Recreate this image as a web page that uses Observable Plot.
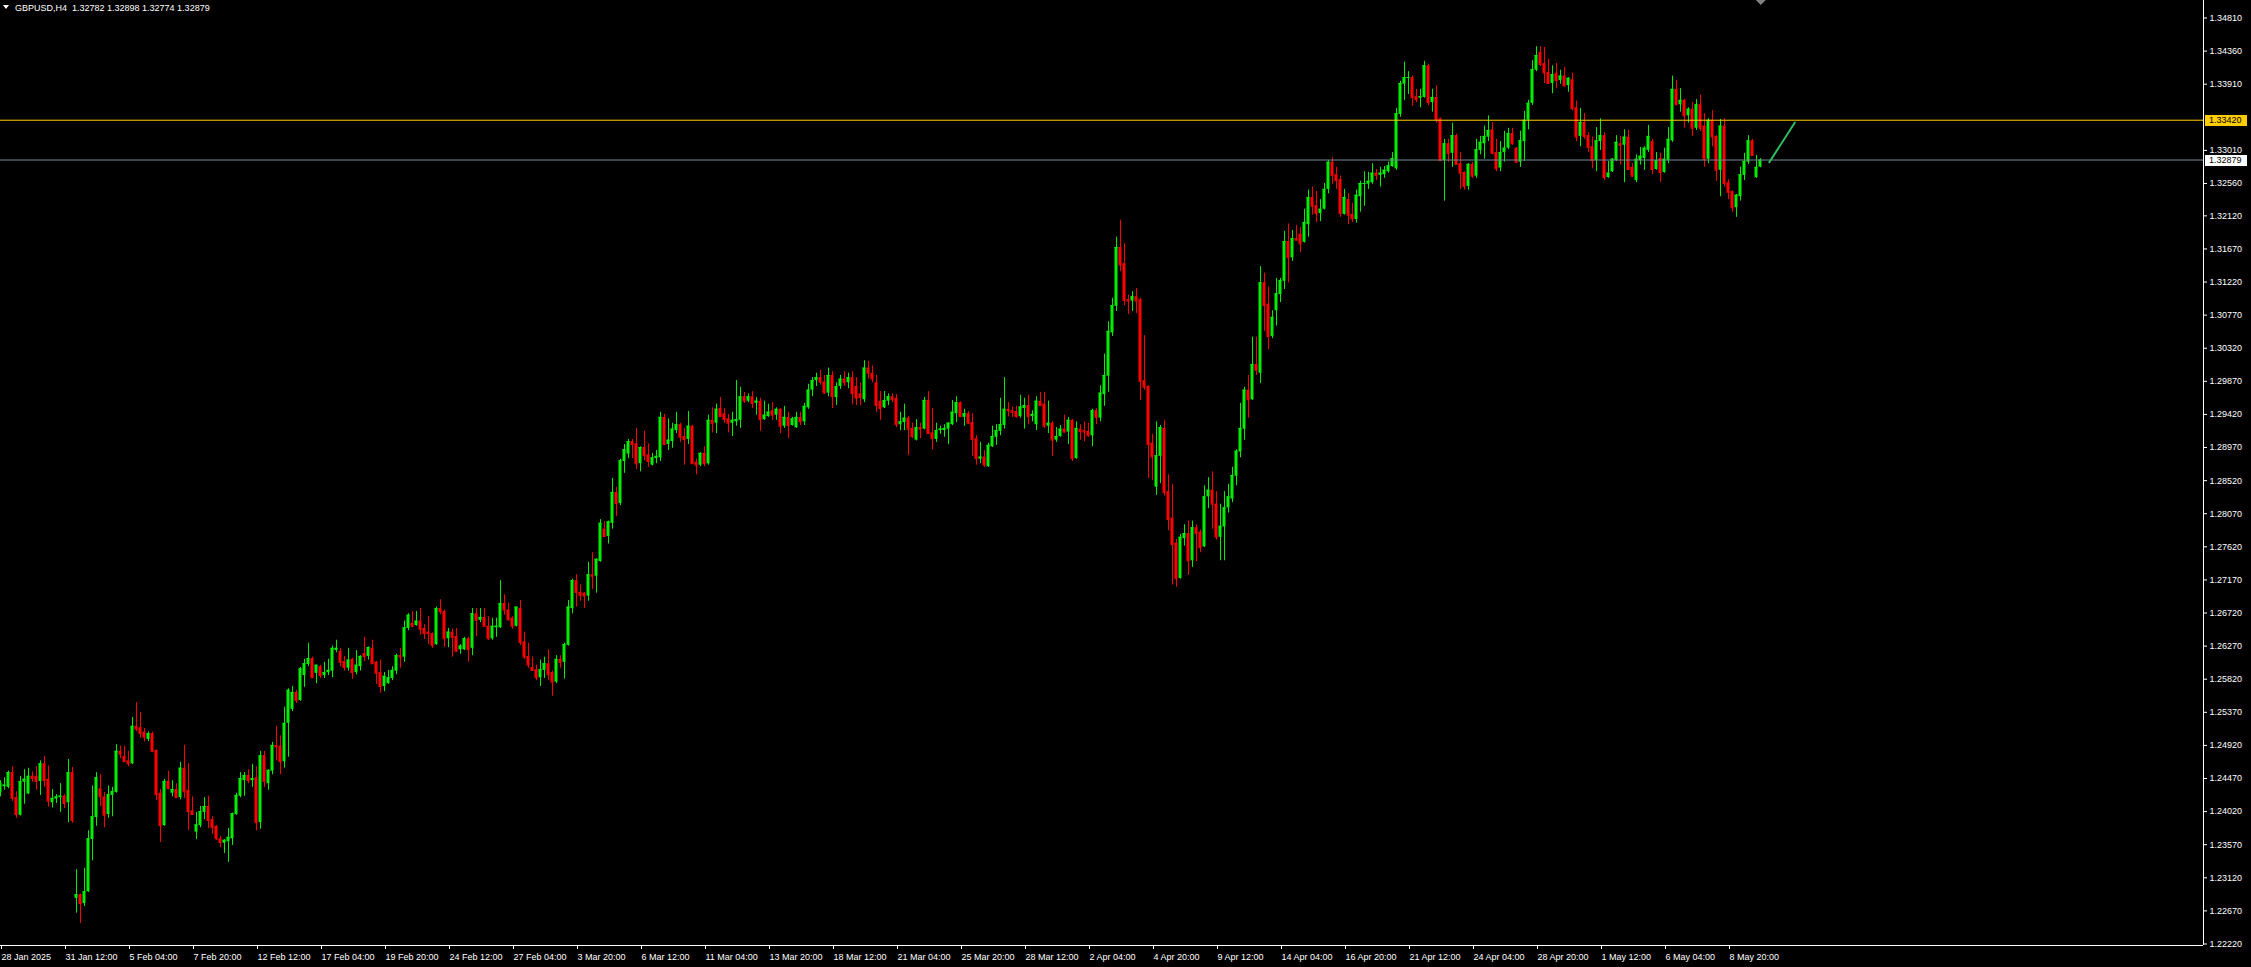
<!DOCTYPE html>
<html><head><meta charset="utf-8">
<script src="https://cdn.jsdelivr.net/npm/d3@7"></script>
<script src="https://cdn.jsdelivr.net/npm/@observablehq/plot@0.6"></script>
<style>
html,body{margin:0;padding:0;background:#000;overflow:hidden;}
#chart svg{display:block;}
</style></head><body><div id="chart"></div>
<script>
const symbolTitle = "GBPUSD,H4";
const lastQuote = ["1.32782", "1.32898", "1.32774", "1.32879"];

const openP = [
1.2428,1.2436,1.2435,1.2455,1.2421,1.2397,1.2442,1.2426,1.2450,1.2450,
1.2443,1.2467,1.2446,1.2414,1.2419,1.2421,1.2423,1.2414,1.2455,1.2284,
1.2289,1.2277,1.2293,1.2364,1.2394,1.2433,1.2422,1.2398,1.2424,1.2428,
1.2484,1.2477,1.2471,1.2467,1.2518,1.2516,1.2510,1.2500,1.2508,1.2485,
1.2427,1.2383,1.2443,1.2427,1.2432,1.2421,1.2461,1.2431,1.2403,1.2374,
1.2383,1.2401,1.2409,1.2391,1.2382,1.2365,1.2359,1.2361,1.2365,1.2398,
1.2423,1.2444,1.2451,1.2444,1.2448,1.2387,1.2478,1.2440,1.2457,1.2492,
1.2491,1.2470,1.2522,1.2541,1.2564,
1.2553,1.2587,1.2602,1.2610,1.2590,1.2599,1.2587,1.2591,1.2593,1.2621,
1.2620,1.2606,1.2597,1.2609,1.2591,1.2599,1.2617,1.2613,1.2624,1.2605,
1.2591,1.2572,1.2576,1.2583,1.2593,1.2614,1.2612,1.2651,1.2658,1.2655,
1.2661,1.2651,1.2646,1.2644,1.2629,1.2678,1.2674,1.2637,1.2646,1.2640,
1.2622,1.2622,1.2637,1.2624,1.2671,1.2662,1.2666,1.2654,1.2637,1.2652,
1.2652,1.2685,1.2676,1.2665,1.2654,1.2678,1.2633,1.2613,1.2598,1.2595,
1.2584,1.2594,1.2603,1.2591,1.2578,1.2609,1.2605,1.2628,1.2678,1.2716,
1.2700,1.2699,1.2695,1.2724,1.2722,
1.2742,1.2786,1.2776,1.2794,1.2836,1.2821,1.2878,1.2888,1.2905,1.2902,
1.2875,1.2897,1.2887,1.2873,1.2882,1.2883,1.2938,1.2901,1.2905,1.2920,
1.2928,1.2912,1.2908,1.2926,1.2877,1.2873,1.2889,1.2875,1.2934,1.2930,
1.2950,1.2943,1.2936,1.2930,1.2932,1.2934,1.2966,1.2960,1.2966,1.2957,
1.2960,1.2935,1.2939,1.2947,1.2941,1.2949,1.2926,1.2938,1.2927,1.2924,
1.2938,1.2932,1.2951,1.2975,1.2988,1.2992,1.2986,1.2971,1.2995,1.2965,
1.2980,1.2990,1.2985,1.2992,1.2980,1.2970,1.2962,1.3005,1.2998,1.2985,
1.2960,1.2951,1.2960,1.2966,1.2964,
1.2928,1.2931,1.2937,1.2923,1.2907,1.2924,1.2922,1.2961,1.2917,1.2908,
1.2920,1.2920,1.2922,1.2928,1.2943,1.2958,1.2938,1.2943,1.2931,1.2909,
1.2881,1.2884,1.2871,1.2898,1.2911,1.2919,1.2927,1.2949,1.2947,1.2946,
1.2939,1.2950,1.2954,1.2939,1.2928,1.2960,1.2956,1.2926,1.2930,1.2907,
1.2912,1.2922,1.2918,1.2934,1.2882,1.2922,1.2920,1.2919,1.2913,1.2947,
1.2937,1.2969,1.2994,1.3053,1.3089,1.3169,1.3147,1.3098,1.3096,1.3102,
1.3098,1.2988,1.2980,1.2903,1.2843,1.2885,1.2923,1.2837,1.2801,1.2767,
1.2719,1.2773,1.2780,1.2743,1.2788,
1.2782,1.2762,1.2830,1.2839,1.2820,1.2775,1.2789,1.2815,1.2827,1.2858,
1.2891,1.2922,1.2975,1.2962,1.3010,1.2998,1.3121,1.3092,1.3048,1.3083,
1.3105,1.3123,1.3177,1.3155,1.3181,1.3187,1.3176,1.3200,1.3237,1.3226,
1.3215,1.3221,1.3248,1.3285,1.3268,1.3261,1.3214,1.3234,1.3214,1.3207,
1.3238,1.3255,1.3255,1.3257,1.3270,1.3267,1.3268,1.3272,1.3279,1.3276,
1.3350,1.3391,1.3399,1.3400,1.3374,1.3372,1.3373,1.3416,1.3366,1.3373,
1.3344,1.3287,1.3310,1.3297,1.3321,1.3283,1.3271,1.3252,1.3282,1.3266,
1.3301,1.3310,1.3319,1.3329,1.3298,
1.3277,1.3298,1.3304,1.3324,1.3304,1.3285,1.3313,1.3342,1.3365,1.3410,
1.3434,1.3419,1.3407,1.3392,1.3406,1.3396,1.3402,1.3389,1.3397,1.3359,
1.3320,1.3339,1.3321,1.3306,1.3287,1.3313,1.3321,1.3264,1.3272,1.3287,
1.3310,1.3308,1.3319,1.3278,1.3260,1.3287,1.3290,1.3301,1.3313,1.3275,
1.3290,1.3271,1.3287,1.3314,1.3384,1.3363,1.3369,1.3348,1.3357,1.3331,
1.3363,1.3334,1.3289,1.3342,1.3320,1.3274,1.3334,1.3257,1.3245,1.3223,
1.3238,1.3267,1.3285,1.3314,1.3264,1.32782];

const highP = [
1.2444,1.2448,1.2457,1.2463,1.2429,1.2450,1.2459,1.2461,1.2456,1.2463,
1.2471,1.2477,1.2464,1.2432,1.2425,1.2440,1.2425,1.2473,1.2462,1.2323,
1.2290,1.2325,1.2376,1.2437,1.2455,1.2452,1.2428,1.2437,1.2435,1.2493,
1.2491,1.2491,1.2484,1.2530,1.2550,1.2537,1.2515,1.2510,1.2510,1.2486,
1.2432,1.2446,1.2457,1.2444,1.2440,1.2469,1.2492,1.2467,1.2422,1.2401,
1.2409,1.2421,1.2423,1.2395,1.2383,1.2368,1.2364,1.2379,1.2400,1.2427,
1.2455,1.2455,1.2459,1.2466,1.2463,1.2484,1.2484,1.2459,1.2496,1.2518,
1.2505,1.2544,1.2569,1.2572,1.2567,
1.2598,1.2609,1.2631,1.2612,1.2601,1.2601,1.2605,1.2609,1.2627,1.2635,
1.2624,1.2613,1.2624,1.2610,1.2621,1.2614,1.2639,1.2626,1.2635,1.2606,
1.2608,1.2591,1.2594,1.2599,1.2616,1.2624,1.2661,1.2671,1.2674,1.2674,
1.2678,1.2656,1.2667,1.2645,1.2680,1.2690,1.2676,1.2651,1.2650,1.2651,
1.2629,1.2639,1.2639,1.2678,1.2678,1.2678,1.2678,1.2667,1.2665,1.2665,
1.2716,1.2697,1.2685,1.2667,1.2680,1.2689,1.2646,1.2631,1.2612,1.2601,
1.2608,1.2612,1.2622,1.2593,1.2614,1.2614,1.2631,1.2689,1.2718,1.2724,
1.2710,1.2700,1.2741,1.2754,1.2746,
1.2799,1.2796,1.2797,1.2855,1.2843,1.2881,1.2901,1.2908,1.2908,1.2923,
1.2898,1.2919,1.2902,1.2889,1.2893,1.2945,1.2942,1.2936,1.2930,1.2945,
1.2930,1.2923,1.2946,1.2927,1.2881,1.2890,1.2898,1.2941,1.2951,1.2956,
1.2965,1.2950,1.2942,1.2945,1.2988,1.2979,1.2972,1.2970,1.2973,1.2965,
1.2964,1.2960,1.2956,1.2958,1.2951,1.2950,1.2953,1.2945,1.2938,1.2945,
1.2945,1.2957,1.2983,1.2992,1.2998,1.3002,1.2995,1.3005,1.3000,1.2985,
1.2995,1.3000,1.2998,1.3000,1.2992,1.2985,1.3015,1.3014,1.3008,1.2995,
1.2973,1.2973,1.2970,1.2970,1.2969,
1.2945,1.2956,1.2939,1.2930,1.2935,1.2930,1.2965,1.2973,1.2950,1.2930,
1.2926,1.2928,1.2931,1.2961,1.2966,1.2959,1.2949,1.2946,1.2943,1.2913,
1.2904,1.2893,1.2903,1.2926,1.2928,1.2964,1.2992,1.2958,1.2952,1.2953,
1.2968,1.2964,1.2968,1.2947,1.2966,1.2972,1.2972,1.2960,1.2932,1.2924,
1.2927,1.2941,1.2938,1.2935,1.2932,1.2928,1.2932,1.2930,1.2949,1.2950,
1.2981,1.3024,1.3068,1.3100,1.3183,1.3206,1.3174,1.3104,1.3109,1.3113,
1.3100,1.3049,1.2981,1.2915,1.2932,1.2927,1.2934,1.2860,1.2847,1.2772,
1.2779,1.2792,1.2797,1.2797,1.2792,
1.2785,1.2845,1.2856,1.2864,1.2837,1.2820,1.2837,1.2847,1.2870,1.2894,
1.2957,1.2979,1.2995,1.3047,1.3047,1.3143,1.3134,1.3115,1.3083,1.3127,
1.3127,1.3191,1.3201,1.3192,1.3199,1.3196,1.3221,1.3247,1.3251,1.3245,
1.3234,1.3256,1.3287,1.3291,1.3278,1.3266,1.3248,1.3242,1.3229,1.3247,
1.3259,1.3272,1.3271,1.3283,1.3275,1.3278,1.3279,1.3285,1.3298,1.3358,
1.3395,1.3421,1.3408,1.3402,1.3384,1.3384,1.3422,1.3418,1.3384,1.3389,
1.3345,1.3316,1.3316,1.3338,1.3323,1.3298,1.3272,1.3283,1.3285,1.3316,
1.3320,1.3334,1.3348,1.3339,1.3316,
1.3313,1.3327,1.3331,1.3331,1.3305,1.3327,1.3354,1.3369,1.3423,1.3442,
1.3442,1.3441,1.3425,1.3416,1.3419,1.3410,1.3414,1.3400,1.3406,1.3368,
1.3358,1.3351,1.3325,1.3319,1.3332,1.3344,1.3325,1.3286,1.3290,1.3321,
1.3320,1.3329,1.3328,1.3283,1.3295,1.3305,1.3306,1.3335,1.3316,1.3298,
1.3297,1.3304,1.3332,1.3402,1.3396,1.3385,1.3370,1.3359,1.3366,1.3370,
1.3376,1.3351,1.3344,1.3355,1.3321,1.3343,1.3344,1.3261,1.3246,1.3241,
1.3278,1.3297,1.3321,1.3316,1.3294,1.32898];

const lowP = [
1.2422,1.2431,1.2433,1.2416,1.2393,1.2396,1.2412,1.2425,1.2442,1.2431,
1.2424,1.2435,1.2408,1.2407,1.2413,1.2401,1.2406,1.2387,1.2386,1.2264,
1.2250,1.2273,1.2292,1.2335,1.2382,1.2409,1.2380,1.2393,1.2395,1.2427,
1.2474,1.2469,1.2463,1.2466,1.2511,1.2502,1.2497,1.2497,1.2482,1.2417,
1.2360,1.2382,1.2432,1.2422,1.2420,1.2418,1.2420,1.2376,1.2397,1.2364,
1.2380,1.2391,1.2379,1.2371,1.2363,1.2353,1.2345,1.2333,1.2356,1.2397,
1.2421,1.2423,1.2440,1.2435,1.2376,1.2378,1.2435,1.2431,1.2452,1.2471,
1.2452,1.2461,1.2476,1.2538,1.2549,
1.2552,1.2571,1.2599,1.2583,1.2576,1.2583,1.2583,1.2587,1.2584,1.2618,
1.2599,1.2593,1.2593,1.2582,1.2588,1.2593,1.2606,1.2608,1.2602,1.2575,
1.2563,1.2565,1.2575,1.2580,1.2588,1.2597,1.2605,1.2648,1.2652,1.2654,
1.2642,1.2636,1.2629,1.2624,1.2628,1.2670,1.2625,1.2625,1.2612,1.2618,
1.2616,1.2621,1.2605,1.2614,1.2640,1.2659,1.2653,1.2635,1.2635,1.2639,
1.2651,1.2669,1.2661,1.2650,1.2653,1.2628,1.2609,1.2597,1.2593,1.2580,
1.2572,1.2583,1.2580,1.2559,1.2576,1.2597,1.2582,1.2627,1.2671,1.2680,
1.2688,1.2678,1.2688,1.2704,1.2699,
1.2741,1.2775,1.2766,1.2786,1.2803,1.2818,1.2862,1.2882,1.2882,1.2867,
1.2864,1.2879,1.2870,1.2872,1.2875,1.2878,1.2900,1.2893,1.2896,1.2916,
1.2904,1.2873,1.2901,1.2874,1.2860,1.2871,1.2871,1.2873,1.2917,1.2916,
1.2938,1.2930,1.2917,1.2912,1.2926,1.2923,1.2957,1.2958,1.2950,1.2941,
1.2919,1.2934,1.2938,1.2934,1.2934,1.2916,1.2923,1.2909,1.2926,1.2923,
1.2927,1.2927,1.2949,1.2966,1.2980,1.2982,1.2969,1.2966,1.2950,1.2954,
1.2976,1.2980,1.2977,1.2955,1.2954,1.2954,1.2958,1.2990,1.2985,1.2945,
1.2934,1.2950,1.2954,1.2958,1.2924,
1.2920,1.2920,1.2886,1.2909,1.2906,1.2909,1.2921,1.2915,1.2894,1.2904,
1.2915,1.2911,1.2901,1.2927,1.2931,1.2938,1.2926,1.2928,1.2885,1.2873,
1.2875,1.2870,1.2870,1.2897,1.2900,1.2913,1.2922,1.2939,1.2938,1.2937,
1.2937,1.2922,1.2928,1.2932,1.2920,1.2953,1.2923,1.2916,1.2885,1.2904,
1.2911,1.2917,1.2901,1.2878,1.2881,1.2907,1.2905,1.2911,1.2898,1.2928,
1.2932,1.2953,1.2972,1.3048,1.3082,1.3136,1.3090,1.3078,1.3082,1.3079,
1.2961,1.2975,1.2855,1.2852,1.2832,1.2848,1.2831,1.2784,1.2710,1.2707,
1.2718,1.2763,1.2723,1.2734,1.2742,
1.2754,1.2761,1.2814,1.2786,1.2771,1.2743,1.2743,1.2808,1.2822,1.2845,
1.2883,1.2907,1.2937,1.2961,1.2995,1.2984,1.3055,1.3030,1.3045,1.3062,
1.3094,1.3112,1.3121,1.3150,1.3178,1.3162,1.3175,1.3183,1.3213,1.3203,
1.3204,1.3220,1.3242,1.3255,1.3248,1.3210,1.3213,1.3200,1.3203,1.3202,
1.3217,1.3225,1.3248,1.3255,1.3260,1.3251,1.3263,1.3270,1.3278,1.3274,
1.3346,1.3369,1.3377,1.3361,1.3366,1.3359,1.3372,1.3362,1.3353,1.3338,
1.3286,1.3232,1.3285,1.3278,1.3281,1.3248,1.3247,1.3247,1.3263,1.3263,
1.3295,1.3289,1.3313,1.3295,1.3272,
1.3272,1.3285,1.3302,1.3308,1.3283,1.3278,1.3286,1.3329,1.3362,1.3408,
1.3415,1.3392,1.3391,1.3378,1.3385,1.3391,1.3387,1.3380,1.3355,1.3313,
1.3306,1.3316,1.3298,1.3276,1.3272,1.3301,1.3260,1.3263,1.3271,1.3286,
1.3281,1.3257,1.3274,1.3264,1.3257,1.3281,1.3274,1.3298,1.3268,1.3274,
1.3257,1.3270,1.3283,1.3312,1.3362,1.3353,1.3331,1.3338,1.3320,1.3328,
1.3327,1.3278,1.3283,1.3306,1.3259,1.3238,1.3251,1.3234,1.3217,1.3210,
1.3232,1.3260,1.3282,1.3293,1.3263,1.32774];

const closeP = [
1.2440,1.2438,1.2455,1.2420,1.2398,1.2443,1.2446,1.2450,1.2447,1.2443,
1.2467,1.2444,1.2416,1.2420,1.2422,1.2423,1.2413,1.2455,1.2390,1.2289,
1.2277,1.2293,1.2365,1.2395,1.2448,1.2422,1.2397,1.2425,1.2429,1.2484,
1.2480,1.2470,1.2467,1.2518,1.2514,1.2508,1.2503,1.2508,1.2484,1.2425,
1.2383,1.2443,1.2433,1.2432,1.2421,1.2461,1.2429,1.2402,1.2398,1.2384,
1.2402,1.2409,1.2390,1.2380,1.2365,1.2360,1.2363,1.2367,1.2399,1.2424,
1.2447,1.2451,1.2444,1.2447,1.2387,1.2478,1.2443,1.2458,1.2492,1.2490,
1.2470,1.2522,1.2567,1.2564,1.2553,
1.2596,1.2603,1.2610,1.2584,1.2601,1.2587,1.2591,1.2594,1.2624,1.2624,
1.2605,1.2598,1.2608,1.2591,1.2601,1.2613,1.2613,1.2625,1.2603,1.2590,
1.2572,1.2586,1.2584,1.2594,1.2614,1.2612,1.2652,1.2669,1.2654,1.2661,
1.2650,1.2644,1.2644,1.2628,1.2678,1.2674,1.2637,1.2646,1.2639,1.2620,
1.2627,1.2637,1.2622,1.2671,1.2662,1.2666,1.2654,1.2637,1.2654,1.2654,
1.2685,1.2676,1.2663,1.2654,1.2680,1.2632,1.2612,1.2601,1.2594,1.2584,
1.2595,1.2603,1.2588,1.2578,1.2609,1.2605,1.2629,1.2680,1.2716,1.2700,
1.2696,1.2695,1.2724,1.2722,1.2745,
1.2794,1.2776,1.2796,1.2836,1.2821,1.2879,1.2894,1.2905,1.2901,1.2875,
1.2897,1.2886,1.2878,1.2883,1.2885,1.2938,1.2901,1.2907,1.2922,1.2928,
1.2911,1.2908,1.2926,1.2875,1.2873,1.2889,1.2875,1.2934,1.2930,1.2949,
1.2939,1.2935,1.2930,1.2934,1.2935,1.2966,1.2960,1.2966,1.2957,1.2960,
1.2935,1.2941,1.2945,1.2941,1.2949,1.2926,1.2938,1.2927,1.2936,1.2938,
1.2932,1.2953,1.2975,1.2988,1.2992,1.2986,1.2971,1.2995,1.2966,1.2980,
1.2990,1.2985,1.2992,1.2970,1.2964,1.2965,1.3005,1.2998,1.2990,1.2954,
1.2950,1.2961,1.2966,1.2962,1.2928,
1.2932,1.2937,1.2922,1.2912,1.2924,1.2922,1.2961,1.2916,1.2909,1.2920,
1.2922,1.2923,1.2930,1.2945,1.2958,1.2939,1.2943,1.2930,1.2908,1.2882,
1.2884,1.2873,1.2900,1.2912,1.2920,1.2928,1.2949,1.2947,1.2945,1.2939,
1.2952,1.2954,1.2939,1.2942,1.2960,1.2954,1.2926,1.2930,1.2907,1.2912,
1.2922,1.2918,1.2934,1.2882,1.2923,1.2919,1.2918,1.2913,1.2947,1.2938,
1.2971,1.2995,1.3055,1.3090,1.3169,1.3145,1.3097,1.3096,1.3102,1.3096,
1.2987,1.2979,1.2901,1.2884,1.2886,1.2924,1.2836,1.2799,1.2765,1.2719,
1.2775,1.2780,1.2743,1.2788,1.2780,
1.2761,1.2830,1.2839,1.2820,1.2775,1.2790,1.2815,1.2830,1.2859,1.2892,
1.2923,1.2975,1.2962,1.3010,1.3002,1.3121,1.3090,1.3048,1.3074,1.3106,
1.3124,1.3177,1.3155,1.3181,1.3179,1.3174,1.3203,1.3237,1.3225,1.3215,
1.3221,1.3248,1.3285,1.3267,1.3260,1.3215,1.3237,1.3213,1.3208,1.3240,
1.3256,1.3256,1.3259,1.3270,1.3267,1.3270,1.3274,1.3280,1.3290,1.3351,
1.3392,1.3400,1.3400,1.3373,1.3370,1.3374,1.3416,1.3366,1.3373,1.3343,
1.3287,1.3310,1.3297,1.3321,1.3282,1.3270,1.3252,1.3282,1.3266,1.3302,
1.3312,1.3320,1.3328,1.3297,1.3276,
1.3298,1.3304,1.3324,1.3310,1.3285,1.3314,1.3342,1.3365,1.3411,1.3430,
1.3418,1.3406,1.3392,1.3404,1.3396,1.3402,1.3389,1.3399,1.3358,1.3319,
1.3339,1.3320,1.3305,1.3287,1.3314,1.3321,1.3264,1.3270,1.3289,1.3312,
1.3308,1.3319,1.3275,1.3266,1.3289,1.3293,1.3304,1.3320,1.3275,1.3287,
1.3271,1.3289,1.3316,1.3384,1.3363,1.3369,1.3348,1.3357,1.3331,1.3363,
1.3331,1.3289,1.3342,1.3319,1.3274,1.3334,1.3256,1.3244,1.3223,1.3240,
1.3268,1.3286,1.3314,1.3294,1.3278,1.32879];

const dateTickIdx = [0,16,32,48,64,80,96,112,128,144,160,176,192,208,224,240,256,272,288,304,320,336,352,368,384,400,416,432];
const dateTickLabels = ["28 Jan 2025","31 Jan 12:00","5 Feb 04:00","7 Feb 20:00","12 Feb 12:00","17 Feb 04:00","19 Feb 20:00","24 Feb 12:00","27 Feb 04:00","3 Mar 20:00","6 Mar 12:00","11 Mar 04:00","13 Mar 20:00","18 Mar 12:00","21 Mar 04:00","25 Mar 20:00","28 Mar 12:00","2 Apr 04:00","4 Apr 20:00","9 Apr 12:00","14 Apr 04:00","16 Apr 20:00","21 Apr 12:00","24 Apr 04:00","28 Apr 20:00","1 May 12:00","6 May 04:00","8 May 20:00"];
const priceTicks = [1.34810,1.34360,1.33910,1.33010,1.32560,1.32120,1.31670,1.31220,1.30770,1.30320,1.29870,1.29420,1.28970,1.28520,1.28070,1.27620,1.27170,1.26720,1.26270,1.25820,1.25370,1.24920,1.24470,1.24020,1.23570,1.23120,1.22670,1.22220];
const levelLine = 1.33420;
const bidPrice = 1.32879;
const forecastI = [442.2, 448.6];
const forecastP = [1.32849, 1.33389];

const W = 2251, H = 967;
const bull = "#00ee00", bear = "#ff0000";
const xMax = 550.75, yMin = 1.221995, yMax = 1.350479;

const candles = openP.map((o, i) => ({i, o, h: highP[i], l: lowP[i], c: closeP[i], col: closeP[i] >= o ? bull : bear}));
const forecast = forecastI.map((i, k) => ({i, p: forecastP[k]}));

const plot = Plot.plot({
  width: W, height: H,
  marginLeft: 0, marginRight: 48, marginTop: 0, marginBottom: 22,
  style: {background: "#000", color: "#fff", fontFamily: "'Liberation Sans', Arial, sans-serif", fontSize: "9px"},
  x: {domain: [0, xMax], axis: null, label: null},
  y: {domain: [yMin, yMax], axis: null, label: null},
  marks: [
    Plot.ruleX(candles, {x: "i", y1: "l", y2: "h", stroke: "col", strokeWidth: 1}),
    Plot.rect(candles, {x1: d => d.i - 0.375, x2: d => d.i + 0.375, y1: d => Math.min(d.o, d.c), y2: d => Math.max(d.o, d.c), fill: "col"}),
    Plot.ruleY(candles, {x1: d => d.i - 0.375, x2: d => d.i + 0.375, y: "c", stroke: "col"}),
    Plot.ruleY([levelLine], {stroke: "#ffcc00"}),
    Plot.ruleY([bidPrice], {stroke: "#778899"}),
    Plot.line(forecast, {x: "i", y: "p", stroke: "#2ebd5f", strokeWidth: 2}),
    Plot.ruleX([xMax], {stroke: "#fff"}),
    Plot.ruleY([yMin], {stroke: "#fff"}),
    Plot.axisY(priceTicks, {anchor: "right", label: null, tickSize: 3, tickPadding: 3, tickFormat: d => d.toFixed(5), color: "#fff", fontSize: 9}),
    Plot.axisX(dateTickIdx, {anchor: "bottom", label: null, tickSize: 4, tickPadding: 4, tickFormat: d => dateTickLabels[dateTickIdx.indexOf(d)], textAnchor: "start", dx: 1, color: "#fff", fontSize: 9})
  ]
});

document.getElementById("chart").appendChild(plot);

const ys = plot.scale("y"), xs = plot.scale("x");
const svg = d3.select(plot);
const font = "'Liberation Sans', Arial, sans-serif";

function priceBox(v, bg) {
  const yy = Math.round(ys.apply(v));
  svg.append("rect").attr("x", 2205).attr("y", yy - 5).attr("width", 42).attr("height", 11).attr("fill", bg);
  svg.append("text").attr("x", 2209).attr("y", yy + 0.5).attr("dy", "0.32em").attr("text-anchor", "start")
    .attr("font-family", font).attr("font-size", 9).attr("fill", "#000").text(v.toFixed(5));
}
priceBox(levelLine, "#ffcc00");
priceBox(bidPrice, "#ffffff");

// title
svg.append("path").attr("d", "M3,5 L9,5 L6,9 Z").attr("fill", "#fff");
svg.append("text").attr("x", 15).attr("y", 11).attr("text-anchor", "start").style("white-space", "pre")
  .attr("font-family", font).attr("font-size", 9).attr("fill", "#fff")
  .text(symbolTitle + "  " + lastQuote.join(" "));

// chart shift marker
const sx = xs.apply(440.2);
svg.append("path").attr("d", `M${sx - 5},0 L${sx + 5},0 L${sx},5 Z`).attr("fill", "#808080");
</script>
</body></html>
